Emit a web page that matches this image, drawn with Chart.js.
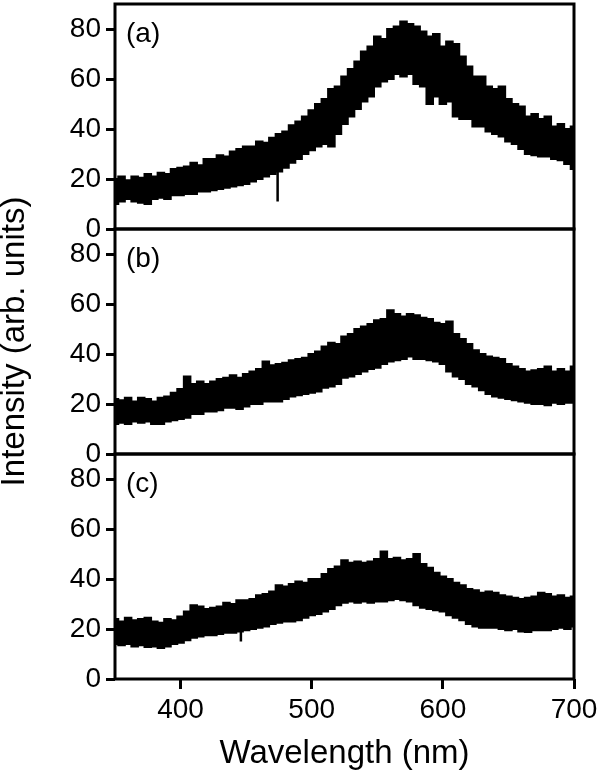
<!DOCTYPE html>
<html lang="en">
<head>
  <meta charset="UTF-8" />
  <title>Intensity spectra (a)-(c)</title>
  <script src="https://cdn.jsdelivr.net/npm/chart.js"></script>
  <style>
    body { margin: 0; background: #fff; }
    #wrap { position: relative; width: 600px; height: 776px; }
  </style>
</head>
<body>
  <div id="wrap"><canvas id="spectra" width="600" height="776"></canvas></div>

  <script>
    // wavelength grid (nm) and the upper / lower edge of each noisy trace
    const wl = [350,355,360,365,370,375,380,385,390,395,400,405,410,415,420,425,430,435,440,445,
                450,455,460,465,470,475,480,485,490,495,500,505,510,515,520,525,530,535,540,545,
                550,555,560,565,570,575,580,585,590,595,600,605,610,615,620,625,630,635,640,645,
                650,655,660,665,670,675,680,685,690,695,700];

    const aHi = [20,21,19.5,21,20.5,22,21,22.5,22,24, 24.5,25,26.5,25.5,28,28,29.5,29,31,32,
                 33,33,35,34.5,36.5,38,39,41.5,43,45, 47.5,50,52,56,57,61,64,67,71,73,
                 77,76,80,81,83,82,81,79,77,78, 73,75,74,69,65,61,61,57,56,57,
                 52,50,49,45,46,44,45,41,42,40, 41];
    const aLo = [10,11,12,11,10.5,10,12,12.5,12,13.5, 13.5,14,14,15,15,15.5,16,16.5,17,17.5,
                 18,19,20,21,22,23,24.5,26.5,28,30, 31.5,33,34,33,38,42,45,48,51,53,
                 57,59,60,62,61,62,58,57,50,53, 50,51,45,44,44,41,41,39,38,37,
                 35,34,32,30,29.5,29,29,28,27.5,26, 24];

    const bHi = [22,21.5,22.5,21,22.5,22,21,22.5,23,24.5, 26,31,28,29,28,29,30,30.5,31.5,30.5,
                 32,33,34,37,35.5,36,36.5,37.5,38,38.5, 40,41,43,44.5,44,47,48,50,51,52,
                 53.5,54,57.5,56,55,56,55.5,54.5,54,52.5, 52,53,48,46,44,41.5,40,39,38.5,38,
                 36,35,34,33,33.5,34,35,33,34,33, 35];
    const bLo = [12,12.5,12,13,12.5,13,12,12,13,13.5, 14,14.5,16,16,17,17,17.5,18.5,18.5,18,
                 19,20,20,21,21,21,22,23,23.5,24, 24.5,25,26.5,27,28,30.5,31,32,33,34,
                 34.5,36,37,37.5,38,39,38,38,37.5,37, 36,33,31,30,28,27,25.5,24,23,22.5,
                 22,21.5,21,20.5,20,20,19.5,20.5,20,20.5, 20.5];

    const cHi = [24,23,24.5,23.5,24,24.5,23,22.5,24,23.5, 25,27,29.5,29,28,28.5,29,30.5,30,31.5,
                 31.5,32,33.5,34,35,37.5,37,38,39,38.5, 40,40,42,44,45,47.5,46.5,47,46.5,47,
                 48,51,48,48.5,47.5,48,50,46,44.5,42.5, 41,40,38.5,37.5,36,35.5,34.5,35,34.5,33.5,
                 33,32.5,32,32.5,33,34.5,34,33,33.5,32.5, 33];
    const cLo = [14,13.5,14,13,13.5,12.8,13,12.4,13,14, 14.5,15.5,16.5,17,17.5,17.5,18,18.5,18.5,19,
                 19.5,20,20.5,21,22,22.5,23,23,23.5,24.5, 25.5,26,27,28,29.5,30.5,31,30.5,31,30.5,
                 31,31,31.5,32,31.5,31,29.5,28.5,28,27.5, 27,25.5,24.5,23.5,22,21,20.5,20.5,20.5,20,
                 19.5,20,19,18.8,19.5,19.5,19.5,20,20.5,20, 21];

    // single-channel dropouts
    const spikePanel  = ['ya', 'yc'];
    const spikeWl     = [474, 446];
    const spikeTop    = [23, 19];
    const spikeBottom = [11, 15];

    const yTicks = [0, 20, 40, 60, 80];
    const xTicks = [400, 500, 600, 700];
    const panelTags = ['(a)', '(b)', '(c)'];

    const FONT = "'Liberation Sans', Arial, Helvetica, sans-serif";
    Chart.defaults.font.family = FONT;
    Chart.defaults.color = '#000';

    const panels = [
      { id: 'ya', tag: panelTags[0], hi: aHi, lo: aLo },
      { id: 'yb', tag: panelTags[1], hi: bHi, lo: bLo },
      { id: 'yc', tag: panelTags[2], hi: cHi, lo: cLo }
    ];

    function pts(ys) {
      return wl.map((x, i) => ({ x: x, y: ys[i] }));
    }

    const datasets = [];
    panels.forEach(p => {
      datasets.push({
        data: pts(p.lo), yAxisID: p.id, stepped: 'middle',
        borderColor: '#000', borderWidth: 2, pointRadius: 0, fill: false
      });
      datasets.push({
        data: pts(p.hi), yAxisID: p.id, stepped: 'middle',
        borderColor: '#000', borderWidth: 2, pointRadius: 0,
        fill: '-1', backgroundColor: '#000'
      });
    });
    spikeWl.forEach((w, i) => {
      datasets.push({
        data: [{ x: w, y: spikeTop[i] }, { x: w, y: spikeBottom[i] }],
        yAxisID: spikePanel[i],
        borderColor: '#000', borderWidth: 2.5, pointRadius: 0, fill: false
      });
    });

    function yScale(withTitle) {
      return {
        type: 'linear',
        position: 'left',
        stack: 'panels',
        stackWeight: 1,
        min: 0,
        max: 90,
        afterBuildTicks: s => { s.ticks = yTicks.map(v => ({ value: v })); },
        afterFit: s => { s.width = 115; s.paddingTop = 0; s.paddingBottom = 0; },
        border: { display: false },
        grid: { drawOnChartArea: false, tickLength: 9, tickWidth: 3, color: '#000' },
        ticks: { font: { size: 28 }, color: '#000', padding: 5, autoSkip: false },
        title: {
          display: withTitle,
          text: 'Intensity (arb. units)',
          font: { size: 33, lineHeight: 0.875 },
          color: '#000',
          padding: 0
        }
      };
    }

    // frame around every panel + the (a)/(b)/(c) tags
    const frames = {
      id: 'frames',
      afterDraw(chart) {
        const { ctx, chartArea } = chart;
        ctx.save();
        ctx.strokeStyle = '#000';
        ctx.lineWidth = 3;
        panels.forEach(p => {
          const sc = chart.scales[p.id];
          ctx.strokeRect(chartArea.left, sc.top, chartArea.right - chartArea.left, sc.bottom - sc.top);
        });
        ctx.fillStyle = '#000';
        ctx.font = '28px ' + FONT;
        ctx.textBaseline = 'middle';
        panels.forEach(p => {
          const sc = chart.scales[p.id];
          ctx.fillText(p.tag, chartArea.left + 11, sc.top + 30);
        });
        ctx.restore();
      }
    };

    new Chart(document.getElementById('spectra'), {
      type: 'line',
      data: { datasets: datasets },
      plugins: [frames],
      options: {
        responsive: false,
        devicePixelRatio: 1,
        animation: false,
        layout: { padding: { top: 4, right: 26, bottom: 0, left: 0 } },
        plugins: { legend: { display: false }, tooltip: { enabled: false } },
        scales: {
          x: {
            type: 'linear',
            min: 350,
            max: 700,
            afterBuildTicks: s => { s.ticks = xTicks.map(v => ({ value: v })); },
            afterFit: s => { s.height = 97; s.paddingLeft = 0; s.paddingRight = 0; },
            border: { display: false },
            grid: { drawOnChartArea: false, tickLength: 10, tickWidth: 3, color: '#000' },
            ticks: { font: { size: 28 }, color: '#000', padding: 4, maxRotation: 0, autoSkip: false },
            title: {
              display: true,
              text: 'Wavelength (nm)',
              font: { size: 33 },
              color: '#000',
              padding: { top: 0, bottom: 2 }
            }
          },
          yc: yScale(false),
          yb: yScale(true),
          ya: yScale(false)
        }
      }
    });
  </script>
</body>
</html>
